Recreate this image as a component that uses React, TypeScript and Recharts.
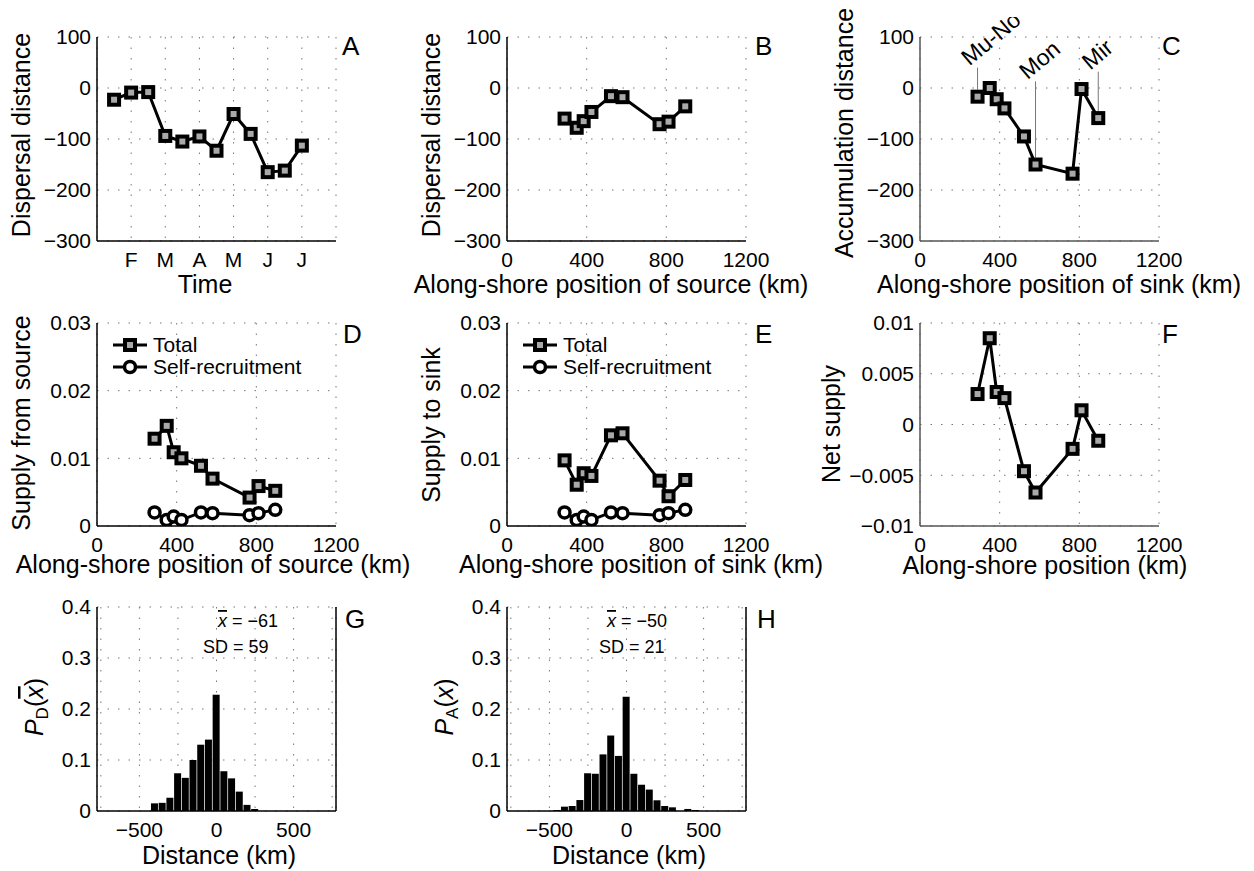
import React from 'react';
import { LineChart, Line, BarChart, Bar, XAxis, YAxis, CartesianGrid, ReferenceLine } from 'recharts';

const FONT = '"Liberation Sans", Arial, Helvetica, sans-serif';

// along-shore position of the nine sites (km)
const sites = [289, 350, 385, 424, 522, 580, 766, 811, 895];

// A: dispersal distance through the season (x in months from January)
const months = [0.5, 1, 1.5, 2, 2.5, 3, 3.5, 4, 4.5, 5, 5.5, 6];
const dispersalByTime = [-23, -9, -8, -94, -105, -95, -123, -51, -90, -165, -162, -113];
const monthTicks = [0, 1, 2, 3, 4, 5, 6, 7];
const monthLabels = ['', 'F', 'M', 'A', 'M', 'J', 'J', ''];

// B, C
const dispersalBySource = [-60, -78, -65, -47, -16, -18, -71, -66, -36];
const accumulationBySink = [-17, 0, -22, -40, -95, -150, -168, -2, -59];
const siteNames = ['Mu-No', 'Mon', 'Mir'];
const siteNameIdx = [0, 5, 8];
const siteNameTop = [40, 13, 32];

// D, E, F
const supplyFromSource = [0.0129, 0.0148, 0.0109, 0.01, 0.0089, 0.007, 0.0042, 0.0059, 0.0052];
const supplyToSink = [0.0097, 0.0061, 0.0078, 0.0074, 0.0134, 0.0137, 0.0067, 0.0044, 0.0068];
const selfRecruitment = [0.002, 0.0009, 0.0014, 0.0009, 0.002, 0.0019, 0.0016, 0.0019, 0.0024];
const netSupply = [0.003, 0.0085, 0.0032, 0.0026, -0.0046, -0.0067, -0.0024, 0.0014, -0.0016];

// G, H histograms (50 km bins)
const binCenters = [-450, -400, -350, -300, -250, -200, -150, -100, -50, 0, 50, 100, 150, 200, 250, 300, 350, 400, 450];
const pDispersal = [0, 0.015, 0.016, 0.026, 0.074, 0.065, 0.1, 0.13, 0.14, 0.228, 0.078, 0.064, 0.038, 0.012, 0.004, 0, 0, 0, 0];
const pAccumulation = [0.002, 0.0085, 0.0098, 0.0215, 0.074, 0.073, 0.111, 0.148, 0.108, 0.224, 0.073, 0.0515, 0.042, 0.021, 0.0098, 0.0072, 0, 0.004, 0.002];

const kmTicks = [0, 400, 800, 1200];
const distTicks = [-300, -200, -100, 0, 100];
const supplyTicks = [0, 0.01, 0.02, 0.03];
const netTicks = [-0.01, -0.005, 0, 0.005, 0.01];
const histXTicks = [-750, -500, -250, 0, 250, 500, 750];
const histYTicks = [0, 0.1, 0.2, 0.3, 0.4];

const ML = 95, MT = 20, MR = 40, MB = 40;
const PW = 239;
const PH = [204, 203, 204];
const COLS = [97, 507, 920];
const ROWS = [37, 323, 607];
const TICK_FS = 21;

const fmt = (v: number) => String(v).replace('-', '\u2212');

const box = (c: number, r: number): React.CSSProperties => ({ position: 'absolute', left: COLS[c] - ML, top: ROWS[r] - MT });
const size = (r: number) => ({ width: ML + PW + MR, height: MT + PH[r] + MB, margin: { top: MT, right: MR, bottom: 0, left: 0 } });

// tick text drawn at the position Recharts hands over
const makeTick = (format: (v: number) => string) => (props: any) => {
  const { x, y, payload, textAnchor, verticalAnchor } = props;
  const dy = verticalAnchor === 'start' ? '0.71em' : verticalAnchor === 'end' ? '0' : '0.355em';
  return (
    <text x={x} y={y} dy={dy} textAnchor={textAnchor} fontSize={TICK_FS} fontFamily={FONT} fill="#000">
      {format(payload.value)}
    </text>
  );
};

const xAx = (color: string, format = fmt) => ({
  type: 'number' as const, height: MB, tickLine: false, tickSize: 0, tickMargin: 11,
  axisLine: { stroke: color, strokeWidth: 1.5 }, tick: makeTick(format), allowDataOverflow: true,
  interval: 0 as const,
});
const yAx = (color: string) => ({
  type: 'number' as const, width: ML, tickLine: false, tickSize: 0, tickMargin: 6,
  axisLine: { stroke: color, strokeWidth: 1.5 }, tick: makeTick(fmt), allowDataOverflow: true,
  interval: 0 as const,
});
const grid = { stroke: '#777', strokeDasharray: '1.5 9' };
const lineProps = { type: 'linear' as const, stroke: '#000', strokeWidth: 3, isAnimationActive: false, activeDot: false };

function SquareDot(props: any) {
  const { cx, cy } = props;
  if (cx == null || cy == null) return null;
  return <rect x={cx - 5} y={cy - 5} width={10} height={10} fill="#a9a9a9" stroke="#000" strokeWidth={4} />;
}

function CircleDot(props: any) {
  const { cx, cy } = props;
  if (cx == null || cy == null) return null;
  return <circle cx={cx} cy={cy} r={5.5} fill="#fff" stroke="#000" strokeWidth={3.5} />;
}

const siteLabel = (name: string) => (props: any) => {
  const vb = props.viewBox || {};
  const x = (vb.x ?? 0) - 8;
  const y = (vb.y ?? 0) - 1;
  return (
    <text x={x} y={y} transform={`rotate(-40 ${x} ${y})`} fontSize={23} fontFamily={FONT} fill="#000">
      {name}
    </text>
  );
};

function SiteChart({ col, row, values, axisColor = '#000', notes = false }: any) {
  const data = sites.map((x, i) => ({ x, y: values[i] }));
  return (
    <div style={box(col, row)}>
      <LineChart {...size(row)} data={data}>
        <CartesianGrid {...grid} />
        <XAxis dataKey="x" {...xAx(axisColor)} domain={[0, 1200]} ticks={kmTicks} />
        <YAxis {...yAx(axisColor)} domain={[-300, 100]} ticks={distTicks} />
        {notes &&
          siteNames.map((name, k) => (
            <ReferenceLine
              key={name}
              segment={[
                { x: sites[siteNameIdx[k]], y: values[siteNameIdx[k]] + 14 },
                { x: sites[siteNameIdx[k]], y: siteNameTop[k] },
              ]}
              stroke="#777"
              strokeWidth={1}
              label={siteLabel(name)}
            />
          ))}
        <Line dataKey="y" {...lineProps} dot={<SquareDot />} />
      </LineChart>
    </div>
  );
}

function SupplyChart({ col, total }: any) {
  const data = sites.map((x, i) => ({ x, total: total[i], self: selfRecruitment[i] }));
  return (
    <div style={box(col, 1)}>
      <LineChart {...size(1)} data={data}>
        <CartesianGrid {...grid} />
        <XAxis dataKey="x" {...xAx('#000')} domain={[0, 1200]} ticks={kmTicks} />
        <YAxis {...yAx('#000')} domain={[0, 0.03]} ticks={supplyTicks} />
        <Line dataKey="total" {...lineProps} dot={<SquareDot />} />
        <Line dataKey="self" {...lineProps} dot={<CircleDot />} />
      </LineChart>
    </div>
  );
}

const histFmt = (v: number) => (v === 0 || Math.abs(v) === 500 ? fmt(v) : '');

function HistChart({ col, values }: any) {
  const data = binCenters.map((x, i) => ({ x, p: values[i] }));
  return (
    <div style={box(col, 2)}>
      <BarChart {...size(2)} data={data}>
        <CartesianGrid {...grid} />
        <XAxis dataKey="x" {...xAx('#000', histFmt)} domain={[-775, 775]} ticks={histXTicks} />
        <YAxis {...yAx('#000')} domain={[0, 0.4]} ticks={histYTicks} />
        <ReferenceLine x={775} stroke="#000" strokeWidth={1.5} />
        <Bar dataKey="p" fill="#000" barSize={7} isAnimationActive={false} />
      </BarChart>
    </div>
  );
}

function LegendBox({ x, y }: { x: number; y: number }) {
  return (
    <g>
      <line x1={x} x2={x + 34} y1={y} y2={y} stroke="#000" strokeWidth={3} />
      <rect x={x + 12} y={y - 5} width={10} height={10} fill="#a9a9a9" stroke="#000" strokeWidth={4} />
      <text x={x + 40} y={y + 7} fontSize={21}>Total</text>
      <line x1={x} x2={x + 34} y1={y + 22} y2={y + 22} stroke="#000" strokeWidth={3} />
      <circle cx={x + 17} cy={y + 22} r={5.5} fill="#fff" stroke="#000" strokeWidth={3.5} />
      <text x={x + 40} y={y + 29} fontSize={21}>Self-recruitment</text>
    </g>
  );
}

const VLabel = ({ x, y, children }: any) => (
  <text transform={`translate(${x},${y}) rotate(-90)`} textAnchor="middle" fontSize={25}>
    {children}
  </text>
);
const HLabel = ({ x, y, children }: any) => (
  <text x={x} y={y} textAnchor="middle" fontSize={25}>
    {children}
  </text>
);
const Letter = ({ x, y, children }: any) => (
  <text x={x} y={y} fontSize={26}>
    {children}
  </text>
);

export default function App() {
  const dataA = months.map((m, i) => ({ x: m, y: dispersalByTime[i] }));
  const dataF = sites.map((x, i) => ({ x, y: netSupply[i] }));
  return (
    <div style={{ position: 'absolute', left: 0, top: 0, width: 1254, height: 871, background: '#fff', fontFamily: FONT }}>
      <div style={box(0, 0)}>
        <LineChart {...size(0)} data={dataA}>
          <CartesianGrid {...grid} />
          <XAxis
            dataKey="x"
            {...xAx('#000', (v: number) => monthLabels[v] ?? '')}
            domain={[0, 7]}
            ticks={monthTicks}
          />
          <YAxis {...yAx('#000')} domain={[-300, 100]} ticks={distTicks} />
          <Line dataKey="y" {...lineProps} dot={<SquareDot />} />
        </LineChart>
      </div>
      <SiteChart col={1} row={0} values={dispersalBySource} />
      <SiteChart col={2} row={0} values={accumulationBySink} axisColor="#555" notes />

      <SupplyChart col={0} total={supplyFromSource} />
      <SupplyChart col={1} total={supplyToSink} />
      <div style={box(2, 1)}>
        <LineChart {...size(1)} data={dataF}>
          <CartesianGrid {...grid} />
          <XAxis dataKey="x" {...xAx('#555')} domain={[0, 1200]} ticks={kmTicks} />
          <YAxis {...yAx('#555')} domain={[-0.01, 0.01]} ticks={netTicks} />
          <Line dataKey="y" {...lineProps} dot={<SquareDot />} />
        </LineChart>
      </div>

      <HistChart col={0} values={pDispersal} />
      <HistChart col={1} values={pAccumulation} />

      <svg
        width={1254}
        height={871}
        style={{ position: 'absolute', left: 0, top: 0, pointerEvents: 'none', fontFamily: FONT }}
      >
        <VLabel x={30} y={135}>Dispersal distance</VLabel>
        <VLabel x={440} y={135}>Dispersal distance</VLabel>
        <VLabel x={853} y={133}>Accumulation distance</VLabel>
        <VLabel x={30} y={423}>Supply from source</VLabel>
        <VLabel x={440} y={425}>Supply to sink</VLabel>
        <VLabel x={840} y={424}>Net supply</VLabel>
        <text transform="translate(43,707) rotate(-90)" textAnchor="middle" fontSize={25}>
          <tspan fontStyle="italic">P</tspan>
          <tspan fontSize={17} dy={5}>D</tspan>
          <tspan dy={-5}>(</tspan>
          <tspan fontStyle="italic" textDecoration="overline">x</tspan>
          <tspan>)</tspan>
        </text>
        <text transform="translate(453,707) rotate(-90)" textAnchor="middle" fontSize={25}>
          <tspan fontStyle="italic">P</tspan>
          <tspan fontSize={17} dy={5}>A</tspan>
          <tspan dy={-5}>(</tspan>
          <tspan fontStyle="italic">x</tspan>
          <tspan>)</tspan>
        </text>

        <HLabel x={205} y={293}>Time</HLabel>
        <HLabel x={611} y={293}>Along-shore position of source (km)</HLabel>
        <HLabel x={1059} y={293}>Along-shore position of sink (km)</HLabel>
        <HLabel x={213} y={573}>Along-shore position of source (km)</HLabel>
        <HLabel x={641} y={573}>Along-shore position of sink (km)</HLabel>
        <HLabel x={1045} y={574}>Along-shore position (km)</HLabel>
        <HLabel x={219} y={864}>Distance (km)</HLabel>
        <HLabel x={629} y={864}>Distance (km)</HLabel>

        <Letter x={342} y={55}>A</Letter>
        <Letter x={755} y={55}>B</Letter>
        <Letter x={1162} y={55}>C</Letter>
        <Letter x={343} y={343}>D</Letter>
        <Letter x={755} y={343}>E</Letter>
        <Letter x={1162} y={343}>F</Letter>
        <Letter x={345} y={628}>G</Letter>
        <Letter x={757} y={628}>H</Letter>

        <LegendBox x={113} y={345} />
        <LegendBox x={523} y={345} />

        <text x={218} y={627} fontSize={18}>
          <tspan fontStyle="italic" textDecoration="overline">x</tspan> = {'\u2212'}61
        </text>
        <text x={203} y={653} fontSize={18}>SD = 59</text>
        <text x={607} y={627} fontSize={18}>
          <tspan fontStyle="italic" textDecoration="overline">x</tspan> = {'\u2212'}50
        </text>
        <text x={599} y={653} fontSize={18}>SD = 21</text>
      </svg>
    </div>
  );
}
